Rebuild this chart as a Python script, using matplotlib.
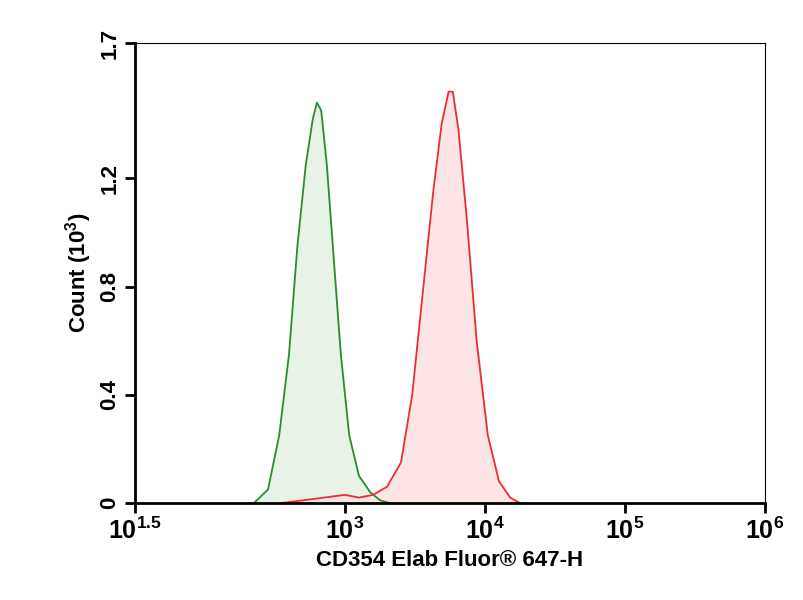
import matplotlib
matplotlib.use("Agg")
import matplotlib.pyplot as plt
import numpy as np

green_logx = [2.35,2.45,2.53,2.60,2.66,2.72,2.77,2.80,2.83,2.87,2.92,2.97,3.03,3.10,3.18,3.25,3.32]
green_y    = [0,0.05,0.25,0.55,0.95,1.25,1.42,1.48,1.45,1.25,0.9,0.55,0.25,0.1,0.04,0.01,0]
red_logx = [2.55,2.7,2.85,3.0,3.1,3.2,3.3,3.4,3.48,3.56,3.63,3.69,3.74,3.77,3.81,3.87,3.94,4.02,4.1,4.18,4.25]
red_y    = [0,0.01,0.02,0.03,0.02,0.03,0.06,0.15,0.4,0.8,1.15,1.4,1.52,1.52,1.38,1.05,0.6,0.25,0.08,0.02,0]
xticks_log = [1.5,3,4,5,6]
xtick_labels = [r"$10^{1.5}$", r"$10^{3}$", r"$10^{4}$", r"$10^{5}$", r"$10^{6}$"]
yticks = [0,0.4,0.8,1.2,1.7]
ytick_labels = ["0","0.4","0.8","1.2","1.7"]

plt.rcParams["font.family"] = "Liberation Sans"
plt.rcParams["font.weight"] = "bold"
plt.rcParams["mathtext.default"] = "regular"
fig = plt.figure(figsize=(8.04,6.0), dpi=100)
ax = fig.add_axes([135/804, 1-503/600, 630/804, 460/600])
gx = 10**np.array(green_logx); rx = 10**np.array(red_logx)
ax.fill_between(gx, green_y, color="#e6f2e6", alpha=0.9)
ax.plot(gx, green_y, color="#2e8b2e", lw=1.3)
ax.fill_between(rx, red_y, color="#fde3e3", alpha=0.9)
ax.plot(rx, red_y, color="#e83030", lw=1.3)
ax.set_xscale("log")
ax.set_xlim(10**1.5, 1e6); ax.set_ylim(0,1.7)
ax.set_xticks([10**v for v in xticks_log]); ax.set_xticklabels(xtick_labels, fontsize=18)
ax.minorticks_off()
ax.set_yticks(yticks); ax.set_yticklabels(ytick_labels, fontsize=16, rotation=90, va="center")
ax.tick_params(direction="out", length=7, width=2)
for s in ["left","bottom"]: ax.spines[s].set_linewidth(2)
for s in ["top","right"]: ax.spines[s].set_linewidth(0.8)
ax.set_ylabel(r"Count (10$^3$)", fontsize=16, fontweight="bold")
ax.set_xlabel("CD354 Elab Fluor® 647-H", fontsize=16, fontweight="bold")
fig.savefig("out.png", dpi=100)
